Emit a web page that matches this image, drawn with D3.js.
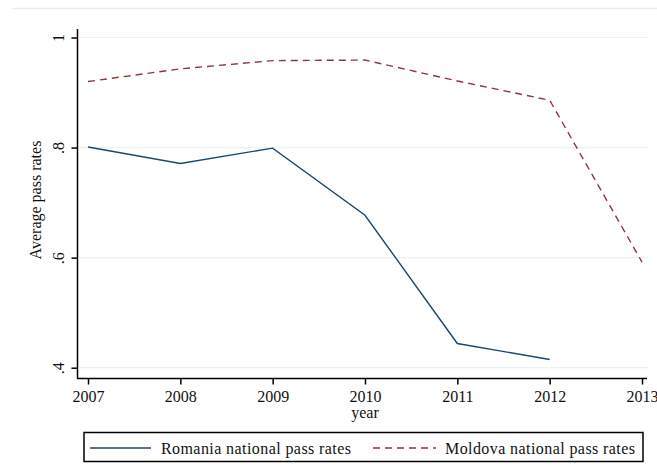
<!DOCTYPE html>
<html>
<head>
<meta charset="utf-8">
<script src="https://cdn.jsdelivr.net/npm/d3@7"></script>
<style>
  body { margin: 0; background: #fff; }
  svg text { font-family: "Liberation Serif", "Times New Roman", serif; fill: #111; }
</style>
</head>
<body>
<div id="graphDiv"></div>
<script>
// data
var years = [2007, 2008, 2009, 2010, 2011, 2012, 2013];
var romania = [0.801, 0.771, 0.799, 0.677, 0.444, 0.415];
var moldova = [0.920, 0.943, 0.958, 0.959, 0.921, 0.886, 0.592];
var yTicks = [0.4, 0.6, 0.8, 1];
var yTickLabels = [".4", ".6", ".8", "1"];

var w = 657, h = 473;
var fs = 16;

var svg = d3.select("#graphDiv").append("svg")
    .attr("width", w)
    .attr("height", h);

// faint outer frame line at top
svg.append("line")
    .attr("x1", 12).attr("x2", w)
    .attr("y1", 8.5).attr("y2", 8.5)
    .attr("stroke", "#e6edf0").attr("stroke-width", 1.5);

var xScale = d3.scaleLinear().domain([2007, 2013]).range([88, 642]);
var yScale = d3.scaleLinear().domain([0.4, 1]).range([367.7, 37.5]);

// grid lines
svg.append("g").selectAll("line")
    .data(yTicks)
    .join("line")
    .attr("x1", 77).attr("x2", 648)
    .attr("y1", function (d) { return yScale(d); })
    .attr("y2", function (d) { return yScale(d); })
    .attr("stroke", "#eaf2f3").attr("stroke-width", 1.2);

// axes
var xAxis = d3.axisBottom(xScale).tickValues(years).tickFormat(d3.format("d")).tickSizeInner(6).tickSizeOuter(0).tickPadding(6);
var yAxis = d3.axisLeft(yScale).tickValues(yTicks)
    .tickFormat(function (d, i) { return yTickLabels[i]; })
    .tickSizeInner(6).tickSizeOuter(0);

var gx = svg.append("g").attr("transform", "translate(0,378.5)").call(xAxis);
gx.select(".domain").attr("d", "M77,0H647");
gx.selectAll("text").attr("font-size", fs).attr("font-family", "Liberation Serif");

var gy = svg.append("g").attr("transform", "translate(77.5,0)").call(yAxis);
gy.select(".domain").attr("d", "M0,29V378.5");
gy.selectAll(".tick text")
    .attr("font-size", fs).attr("font-family", "Liberation Serif")
    .attr("text-anchor", "middle")
    .attr("dy", 0)
    .attr("x", 0).attr("y", 0)
    .attr("transform", "translate(-14,0) rotate(-90)");

svg.selectAll(".domain, .tick line").attr("stroke", "#000").attr("stroke-width", 1.5);

// axis titles
svg.append("text")
    .attr("x", xScale(2010)).attr("y", 418)
    .attr("text-anchor", "middle")
    .attr("font-size", fs)
    .text("year");

svg.append("text")
    .attr("transform", "translate(41,200) rotate(-90)")
    .attr("text-anchor", "middle")
    .attr("font-size", fs)
    .text("Average pass rates");

// lines
var lineFunc = d3.line()
    .x(function (d) { return xScale(d.x); })
    .y(function (d) { return yScale(d.y); });

var romaniaPts = romania.map(function (v, i) { return { x: years[i], y: v }; });
var moldovaPts = moldova.map(function (v, i) { return { x: years[i], y: v }; });

svg.append("path")
    .attr("d", lineFunc(romaniaPts))
    .attr("fill", "none")
    .attr("stroke", "#1a476f")
    .attr("stroke-width", 1.4);

svg.append("path")
    .attr("d", lineFunc(moldovaPts))
    .attr("fill", "none")
    .attr("stroke", "#90353b")
    .attr("stroke-width", 1.4)
    .attr("stroke-dasharray", "7,5");

// legend
var legend = svg.append("g");
legend.append("rect")
    .attr("x", 84).attr("y", 432.5)
    .attr("width", 559).attr("height", 29)
    .attr("fill", "#fff").attr("stroke", "#000").attr("stroke-width", 1.5);

legend.append("line")
    .attr("x1", 90).attr("x2", 151).attr("y1", 448).attr("y2", 448)
    .attr("stroke", "#1a476f").attr("stroke-width", 1.4);
legend.append("text")
    .attr("x", 161).attr("y", 454)
    .attr("font-size", fs)
    .attr("textLength", 190)
    .text("Romania national pass rates");

legend.append("line")
    .attr("x1", 373).attr("x2", 436).attr("y1", 448).attr("y2", 448)
    .attr("stroke", "#90353b").attr("stroke-width", 1.4)
    .attr("stroke-dasharray", "7,5");
legend.append("text")
    .attr("x", 445).attr("y", 454)
    .attr("font-size", fs)
    .attr("textLength", 190)
    .text("Moldova national pass rates");
</script>
</body>
</html>
